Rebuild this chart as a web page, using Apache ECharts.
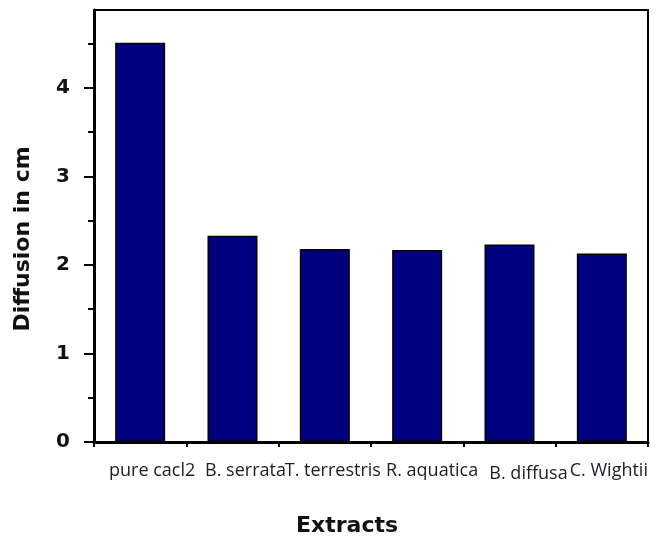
<!DOCTYPE html>
<html>
<head>
<meta charset="utf-8">
<script src="https://cdn.jsdelivr.net/npm/echarts@6/dist/echarts.min.js"></script>
<style>
  html, body { margin: 0; padding: 0; background: #fff; }
  #chart { width: 657px; height: 537px; }
</style>
</head>
<body>
<div id="chart"></div>
<script>
// Diffusion distance for each extract
const categories = ['pure cacl2', 'B. serrata', 'T. terrestris', 'R. aquatica', 'B. diffusa', 'C. Wightii'];
const diffusion = [4.51, 2.33, 2.18, 2.17, 2.23, 2.13];
const yTicks = [0, 1, 2, 3, 4];
const yMinorTicks = [0.5, 1.5, 2.5, 3.5, 4.5];

// per-label horizontal nudge (px) so the names sit like a hand-placed layout
const labelShift = [12, 13, 8, 15, 19, 7];

const rich = {};
labelShift.forEach((s, i) => {
  rich['l' + i] = {
    fontFamily: 'Open Sans', fontSize: 18, color: '#1c1c2a',
    padding: [i === 4 ? 3 : 0, 0, 0, s * 2]
  };
});

const chart = echarts.init(document.getElementById('chart'), null, { renderer: 'canvas' });
chart.setOption({
  animation: false,
  backgroundColor: '#fff',
  grid: {
    left: 94, right: 9, top: 10, bottom: 95,
    outerBoundsMode: 'none',
    containLabel: false,
    show: true, borderColor: '#000', borderWidth: 2, backgroundColor: 'transparent'
  },
  xAxis: [
    {
      type: 'category',
      data: categories,
      position: 'bottom',
      name: 'Extracts',
      nameLocation: 'middle',
      nameGap: 73,
      nameTextStyle: {
        fontFamily: 'DejaVu Sans', fontWeight: 'bold', fontSize: 22, color: '#111',
        padding: [0, 48, 0, 0]
      },
      axisLine: { lineStyle: { color: '#000', width: 3 } },
      axisTick: { alignWithLabel: true, length: 8, lineStyle: { color: '#000', width: 2 } },
      axisLabel: {
        interval: 0, margin: 20,
        formatter: (v, i) => '{l' + i + '|' + v + '}',
        rich: rich
      },
      splitLine: { show: false }
    },
    {
      // short ticks on the category boundaries
      type: 'category',
      data: categories,
      position: 'bottom',
      gridIndex: 0,
      offset: 0,
      axisLine: { show: false, onZero: false },
      axisTick: { show: true, length: 5, lineStyle: { color: '#000', width: 2 } },
      axisLabel: { show: false },
      splitLine: { show: false }
    }
  ],
  yAxis: [
    {
      type: 'value',
      min: 0, max: 4.88, interval: 1,
      name: 'Diffusion in cm',
      nameLocation: 'middle',
      nameGap: 60,
      nameTextStyle: {
        fontFamily: 'DejaVu Sans', fontWeight: 'bold', fontSize: 22, color: '#111',
        padding: [0, 26, 0, 0]
      },
      axisLine: { show: true, lineStyle: { color: '#000', width: 3 } },
      axisTick: { show: true, length: 10, customValues: yTicks, lineStyle: { color: '#000', width: 2 } },
      axisLabel: {
        customValues: yTicks, margin: 24,
        fontFamily: 'DejaVu Sans', fontWeight: 'bold', fontSize: 20, color: '#111'
      },
      splitLine: { show: false }
    },
    {
      // half-unit minor ticks
      type: 'value',
      min: 0, max: 4.88, interval: 0.5,
      position: 'left',
      axisLine: { show: false },
      axisTick: { show: true, length: 6, customValues: yMinorTicks, lineStyle: { color: '#000', width: 2 } },
      axisLabel: { show: false },
      splitLine: { show: false }
    }
  ],
  series: [
    {
      type: 'bar',
      data: diffusion,
      barWidth: 50,
      itemStyle: { color: '#000080', borderColor: '#000', borderWidth: 1.5 }
    }
  ]
});
</script>
</body>
</html>
